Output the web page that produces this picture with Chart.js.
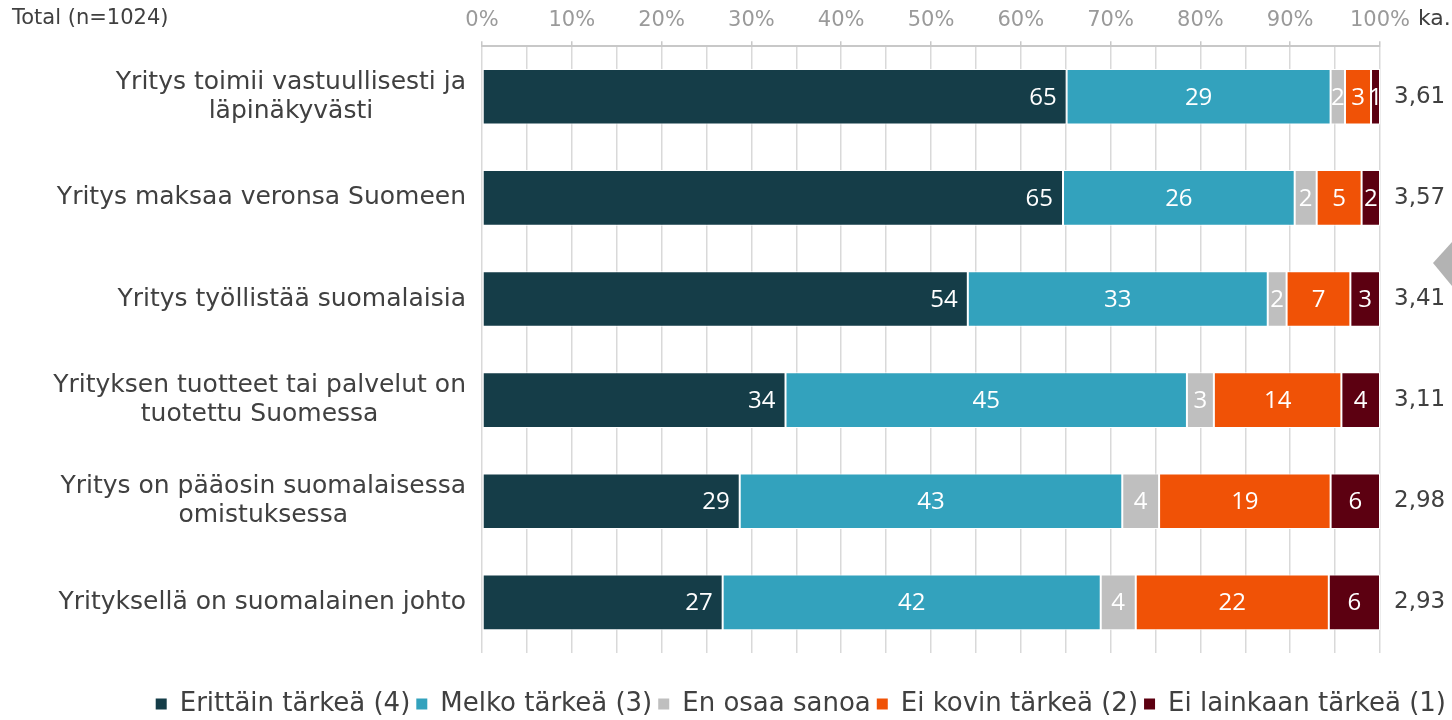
<!DOCTYPE html>
<html>
<head>
<meta charset="utf-8">
<script src="https://cdn.jsdelivr.net/npm/chart.js@4.4.1/dist/chart.umd.min.js"></script>
<style>
  body { margin: 0; background: #fff; }
  #wrap { width: 1452px; height: 720px; }
</style>
</head>
<body>
<div id="wrap"><canvas id="chart" width="1452" height="720"></canvas></div>
<script>
// Rivit ylhäältä alas
const kategoriat = [
  ["Yritys toimii vastuullisesti ja", "läpinäkyvästi"],
  "Yritys maksaa veronsa Suomeen",
  "Yritys työllistää suomalaisia",
  ["Yrityksen tuotteet tai palvelut on", "tuotettu Suomessa"],
  ["Yritys on pääosin suomalaisessa", "omistuksessa"],
  "Yrityksellä on suomalainen johto"
];

const sarjaNimet = ["Erittäin tärkeä (4)", "Melko tärkeä (3)", "En osaa sanoa", "Ei kovin tärkeä (2)", "Ei lainkaan tärkeä (1)"];
const sarjaVarit = ["#153d48", "#33a2bd", "#bfbfbf", "#f05206", "#5c0011"];

// Prosentit (luettu kuvasta)
const erittainTarkea = [65.1, 64.7, 54.1, 33.8, 28.7, 26.8];
const melkoTarkea = [29.4, 25.8, 33.4, 44.7, 42.6, 42.1];
const enOsaaSanoa = [1.6, 2.45, 2.1, 3.0, 4.1, 3.9];
const eiKovinTarkea = [2.9, 5.0, 7.1, 14.2, 19.1, 21.5];
const eiLainkaanTarkea = [1.0, 2.05, 3.3, 4.3, 5.5, 5.7];

// Keskiarvot (ka.)
const keskiarvot = ["3,61", "3,57", "3,41", "3,11", "2,98", "2,93"];

const otsikko = "Total (n=1024)";
const tekstinVari = "#404040";

const sarjat = [erittainTarkea, melkoTarkea, enOsaaSanoa, eiKovinTarkea, eiLainkaanTarkea];

// Tekstit joita Chart.js ei itse piirrä
const lisaTekstit = {
  id: 'lisaTekstit',
  afterLayout(chart) {
    // siirretään selite alas kuvan mukaiseen kohtaan
    const lg = chart.legend;
    const siirto = 704 - (lg.top + lg.options.labels.padding + 13);
    lg.top += siirto;
    lg.bottom += siirto;
  },
  afterDatasetsDraw(chart) {
    const ctx = chart.ctx;
    ctx.save();
    ctx.font = '24px "Open Sans"';
    ctx.fillStyle = '#fff';
    ctx.textBaseline = 'middle';
    chart.data.datasets.forEach((ds, di) => {
      chart.getDatasetMeta(di).data.forEach((bar, i) => {
        const p = bar.getProps(['x', 'y', 'base'], true);
        const arvo = Math.round(ds.data[i]);
        if (di === 0) {
          ctx.textAlign = 'right';
          ctx.fillText(arvo, p.x - 10, p.y + 1);
        } else {
          ctx.textAlign = 'center';
          ctx.fillText(arvo, (p.x + p.base) / 2, p.y + 1);
        }
      });
    });
    ctx.restore();
  },
  afterDraw(chart) {
    const ctx = chart.ctx;
    const y = chart.scales.y;
    ctx.save();
    ctx.fillStyle = tekstinVari;
    ctx.textBaseline = 'middle';

    ctx.font = '21px "DejaVu Sans"';
    ctx.textAlign = 'left';
    ctx.fillText(otsikko, 12, 19);

    ctx.font = '22px "DejaVu Sans"';
    ctx.fillText('ka.', chart.chartArea.right + 38, 19);

    // kategorioiden nimet: lohko oikealle, rivit keskitetysti
    ctx.font = '25px "DejaVu Sans"';
    ctx.textAlign = 'center';
    const riviVali = 29;
    const oikea = chart.chartArea.left - 16;
    kategoriat.forEach((k, i) => {
      const rivit = Array.isArray(k) ? k : [k];
      const leveys = Math.max(...rivit.map(r => ctx.measureText(r).width));
      const keski = y.getPixelForValue(i);
      rivit.forEach((r, j) => {
        ctx.fillText(r, oikea - leveys / 2, keski + (j - (rivit.length - 1) / 2) * riviVali);
      });
    });

    // harmaa nuoli oikeassa reunassa
    ctx.fillStyle = '#b3b3b3';
    ctx.beginPath();
    ctx.moveTo(1433, 263);
    ctx.lineTo(1452, 242);
    ctx.lineTo(1452, 286);
    ctx.closePath();
    ctx.fill();
    ctx.restore();
  }
};

const chart = new Chart(document.getElementById('chart'), {
  type: 'bar',
  data: {
    labels: kategoriat,
    datasets: sarjat.map((d, i) => ({
      label: sarjaNimet[i],
      data: d,
      backgroundColor: sarjaVarit[i],
      borderColor: '#ffffff',
      borderWidth: 1,
      borderSkipped: false,
      barPercentage: 0.55,
      categoryPercentage: 1
    }))
  },
  options: {
    responsive: false,
    animation: false,
    indexAxis: 'y',
    layout: { padding: { top: 0, right: 0, bottom: 25, left: 0 } },
    scales: {
      x: {
        position: 'top',
        stacked: true,
        min: 0,
        max: 100,
        ticks: {
          stepSize: 5,
          autoSkip: false,
          maxRotation: 0,
          padding: 8,
          color: '#9a9a9a',
          font: { family: 'DejaVu Sans', size: 21 },
          callback: v => (v % 10 === 0 ? v + '%' : '')
        },
        grid: {
          color: '#d9d9d9',
          lineWidth: 1.5,
          tickLength: 5,
          tickColor: c => (c.tick && c.tick.value % 10 === 0 ? '#c8c8c8' : 'rgba(0,0,0,0)')
        },
        border: { color: '#c8c8c8', width: 2 }
      },
      y: {
        stacked: true,
        ticks: { display: false },
        grid: { display: false, drawTicks: false },
        border: { display: false },
        afterFit: s => { s.width = 482; }
      },
      y2: {
        type: 'category',
        labels: keskiarvot,
        position: 'right',
        offset: true,
        ticks: {
          padding: 14,
          color: tekstinVari,
          font: { family: 'DejaVu Sans', size: 23 }
        },
        grid: { display: false, drawTicks: false },
        border: { display: false },
        afterFit: s => { s.width = 72; }
      }
    },
    plugins: {
      legend: {
        position: 'bottom',
        align: 'end',
        labels: {
          boxWidth: 11,
          boxHeight: 11,
          padding: 6,
          color: tekstinVari,
          font: { family: 'DejaVu Sans', size: 26 },
          generateLabels: c => Chart.defaults.plugins.legend.labels.generateLabels(c)
            .map(l => Object.assign(l, { lineWidth: 0, strokeStyle: l.fillStyle }))
        }
      },
      tooltip: { enabled: false }
    }
  },
  plugins: [lisaTekstit]
});
</script>
</body>
</html>
